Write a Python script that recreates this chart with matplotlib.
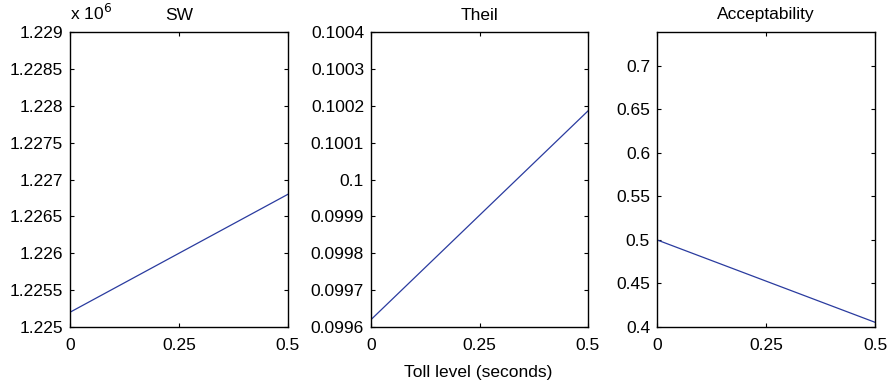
import matplotlib
matplotlib.use('Agg')
import matplotlib.pyplot as plt
from matplotlib.ticker import FuncFormatter

plt.rcParams['font.family'] = ['Liberation Sans', 'DejaVu Sans']
fs = 12.5

# Toll level (seconds)
toll = [0.0, 0.5]

# series
sw = [1.2252e6, 1.2268e6]
theil = [0.09962, 0.100186]
accept = [0.5, 0.4054]

titles = ['SW', 'Theil', 'Acceptability']
xticks = [0, 0.25, 0.5]
xticklabels = ['0', '0.25', '0.5']
sw_ticks = [1.225e6, 1.2255e6, 1.226e6, 1.2265e6, 1.227e6, 1.2275e6, 1.228e6, 1.2285e6, 1.229e6]
theil_ticks = [0.0996, 0.0997, 0.0998, 0.0999, 0.1, 0.1001, 0.1002, 0.1003, 0.1004]
accept_ticks = [0.4, 0.45, 0.5, 0.55, 0.6, 0.65, 0.7]

line_color = '#2a3b9f'

fig = plt.figure(figsize=(8.91, 3.87), dpi=100)
W, H = 891.0, 387.0
boxes = [(70, 288), (371, 588), (657, 875)]
top, bottom = 32, 327
axes = []
for l, r in boxes:
    ax = fig.add_axes([l / W, 1 - bottom / H, (r - l) / W, (bottom - top) / H])
    axes.append(ax)

ax1, ax2, ax3 = axes
ax1.plot(toll, sw, color=line_color, lw=0.9)
ax1.set_ylim(1.225e6, 1.229e6)
ax1.set_yticks(sw_ticks)
ax1.yaxis.set_major_formatter(FuncFormatter(lambda v, p: '%g' % round(v / 1e6, 5)))
ax1.text(0, 1.03, r'x 10$^6$', transform=ax1.transAxes, ha='left', va='bottom', fontsize=fs)

ax2.plot(toll, theil, color=line_color, lw=0.9)
ax2.set_ylim(0.0996, 0.1004)
ax2.set_yticks(theil_ticks)
ax2.yaxis.set_major_formatter(FuncFormatter(lambda v, p: '%g' % round(v, 5)))

ax3.plot(toll, accept, color=line_color, lw=0.9)
ax3.set_ylim(0.4, 0.7387)
ax3.set_yticks(accept_ticks)
ax3.yaxis.set_major_formatter(FuncFormatter(lambda v, p: '%g' % round(v, 3)))

for ax, t in zip(axes, titles):
    ax.set_xlim(0, 0.5)
    ax.set_xticks(xticks)
    ax.set_xticklabels(xticklabels)
    ax.set_title(t, fontsize=fs, pad=9)
    ax.tick_params(direction='in', top=True, right=True, length=3, width=0.8, pad=5, labelsize=fs)
    ax.tick_params(axis='x', pad=8)
    for s in ax.spines.values():
        s.set_linewidth(1.0)

fig.text(478 / W, 1 - 372 / H, 'Toll level (seconds)', ha='center', va='center', fontsize=fs)

fig.savefig('out.png', dpi=100)
